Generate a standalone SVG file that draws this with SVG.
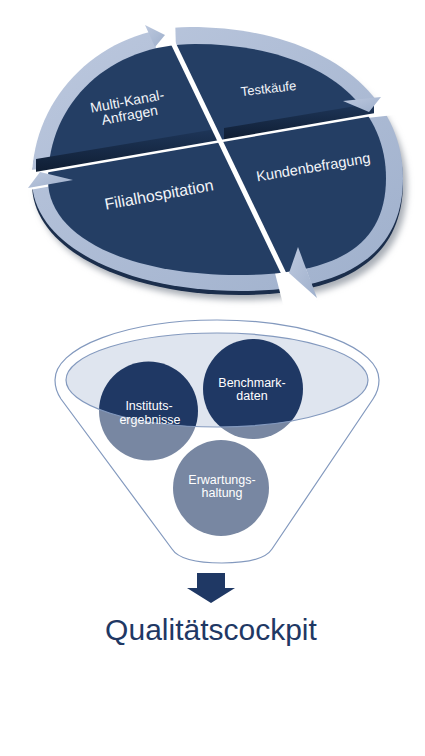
<svg xmlns="http://www.w3.org/2000/svg" width="425" height="756" viewBox="0 0 425 756">
<style>
.lbl{font-family:"Liberation Sans",Arial,sans-serif;fill:#f3f5f9;text-anchor:middle}
.clbl{font-family:"Liberation Sans",Arial,sans-serif;font-size:12.5px;fill:#ffffff;text-anchor:middle}
.ring{fill:url(#ringGrad)}
.face{fill:#243e64}
.strip{fill:url(#stripGrad)}
.div{stroke:#ffffff;fill:none}
.cut{fill:#ffffff}
.fun{fill:none;stroke:#8399be;stroke-width:1.2}
</style>
<defs>
<linearGradient id="ringGrad" x1="0" y1="0" x2="1" y2="1">
<stop offset="0" stop-color="#bcc8de"/>
<stop offset="1" stop-color="#9fb0cc"/>
</linearGradient>
<linearGradient id="stripGrad" x1="0" y1="0" x2="0" y2="1">
<stop offset="0" stop-color="#1e3659"/>
<stop offset="1" stop-color="#0f1d32"/>
</linearGradient>
<filter id="blur" x="-10%" y="-10%" width="120%" height="130%">
<feGaussianBlur stdDeviation="3"/>
</filter>
<path id="outer" d="M190,27 C320,27 403,92 403,178 C403,255 345,291 240,291 C125,291 32,245 32,180 C32,95 103,27 190,27 Z"/>
<path id="inner" d="M195,44 C310,44 386,97 386,178 C386,245 338,275 238,275 C130,275 48,238 48,180 C48,102 110,44 195,44 Z"/>
<clipPath id="discClip"><use href="#outer"/></clipPath>
</defs>
<rect width="425" height="756" fill="#ffffff"/>

<g id="disc">
<use href="#outer" transform="translate(4,9)" fill="#a9aeb6" filter="url(#blur)"/>
<use href="#outer" transform="translate(0,4)" fill="#1b2e4c"/>
<use href="#outer" class="ring"/>
<polygon class="cut" points="147,14 175,14 176,52 157,52"/>
<polygon class="cut" points="340,102 412,95 412,113 340,121"/>
<polygon class="cut" points="298,246 318,303 284,308 268,246"/>
<polygon class="cut" points="18,192 75,182 75,166 18,171"/>
<use href="#inner" class="face"/>
<g clip-path="url(#discClip)">
<polygon class="strip" points="36,159 216,129 216,141.7 36,172.9"/>
<polygon class="strip" points="224,128 374,103 374,114.3 224,140.3"/>
</g>
<line class="div" x1="28" y1="174.5" x2="406" y2="109" stroke-width="2.5"/>
<line class="div" x1="162" y1="20" x2="297" y2="301" stroke-width="5"/>
<polygon class="ring" points="145,25 165,35 155,47"/>
<polygon class="ring" points="343,101 381,97 369,112"/>
<polygon class="ring" points="298,247 317,298 289,273"/>
<polygon class="ring" points="73,180 28,188 40,172"/>
</g>

<g id="n-multikanal">
<text class="lbl" font-size="14" transform="translate(128,106) rotate(-10.5)"><tspan x="0" y="0">Multi-Kanal-</tspan><tspan x="0" y="14">Anfragen</tspan></text>
</g>
<g id="n-testkaeufe">
<text class="lbl" font-size="13" transform="translate(269,93) rotate(-6.5)">Testkäufe</text>
</g>
<g id="n-kundenbefragung">
<text class="lbl" font-size="14.5" transform="translate(314,172) rotate(-9.5)">Kundenbefragung</text>
</g>
<g id="n-filialhospitation">
<text class="lbl" font-size="16" transform="translate(160,200) rotate(-10.3)">Filialhospitation</text>
</g>

<g id="funnel">
<ellipse cx="217" cy="380" rx="151" ry="47" fill="#dfe5ef"/>
</g>
<g id="n-instituts">
<circle cx="148.5" cy="411" r="49.5" fill="#1f3864"/>
</g>
<g id="n-benchmark">
<circle cx="253" cy="389" r="50" fill="#1f3864"/>
</g>
<g id="n-erwartung">
<circle cx="221" cy="488" r="48" fill="#1f3864"/>
</g>
<g id="funnel-body">
<path d="M55,380 A162,60 0 0 1 379,380 C379,388 377,393 373,399 L272,549 C265,560 245,563 222,563 C199,563 179,560 172,549 L61,399 C57,393 55,388 55,380 Z M66,380 A151,47 0 0 0 368,380 A151,47 0 0 0 66,380 Z" fill="#ffffff" fill-opacity="0.4" fill-rule="evenodd"/>
<path class="fun" d="M55,380 A162,60 0 0 1 379,380 C379,388 377,393 373,399 L272,549 C265,560 245,563 222,563 C199,563 179,560 172,549 L61,399 C57,393 55,388 55,380 Z"/>
<ellipse class="fun" cx="217" cy="380" rx="151" ry="47"/>
</g>
<g id="labels-funnel">
<text class="clbl" x="149" y="410">Instituts-</text>
<text class="clbl" x="150" y="424">ergebnisse</text>
<text class="clbl" x="252" y="387">Benchmark-</text>
<text class="clbl" x="252" y="400">daten</text>
<text class="clbl" x="222" y="484">Erwartungs-</text>
<text class="clbl" x="222" y="497">haltung</text>
</g>

<g id="connectors">
<polygon points="197,573 225,573 225,588 235,588 211,603 187,588 197,588" fill="#1f3864"/>
</g>
<g id="n-cockpit">
<text x="211" y="640" font-family="Liberation Sans,Arial,sans-serif" font-size="30" fill="#1f3864" text-anchor="middle">Qualitätscockpit</text>
</g>
</svg>
